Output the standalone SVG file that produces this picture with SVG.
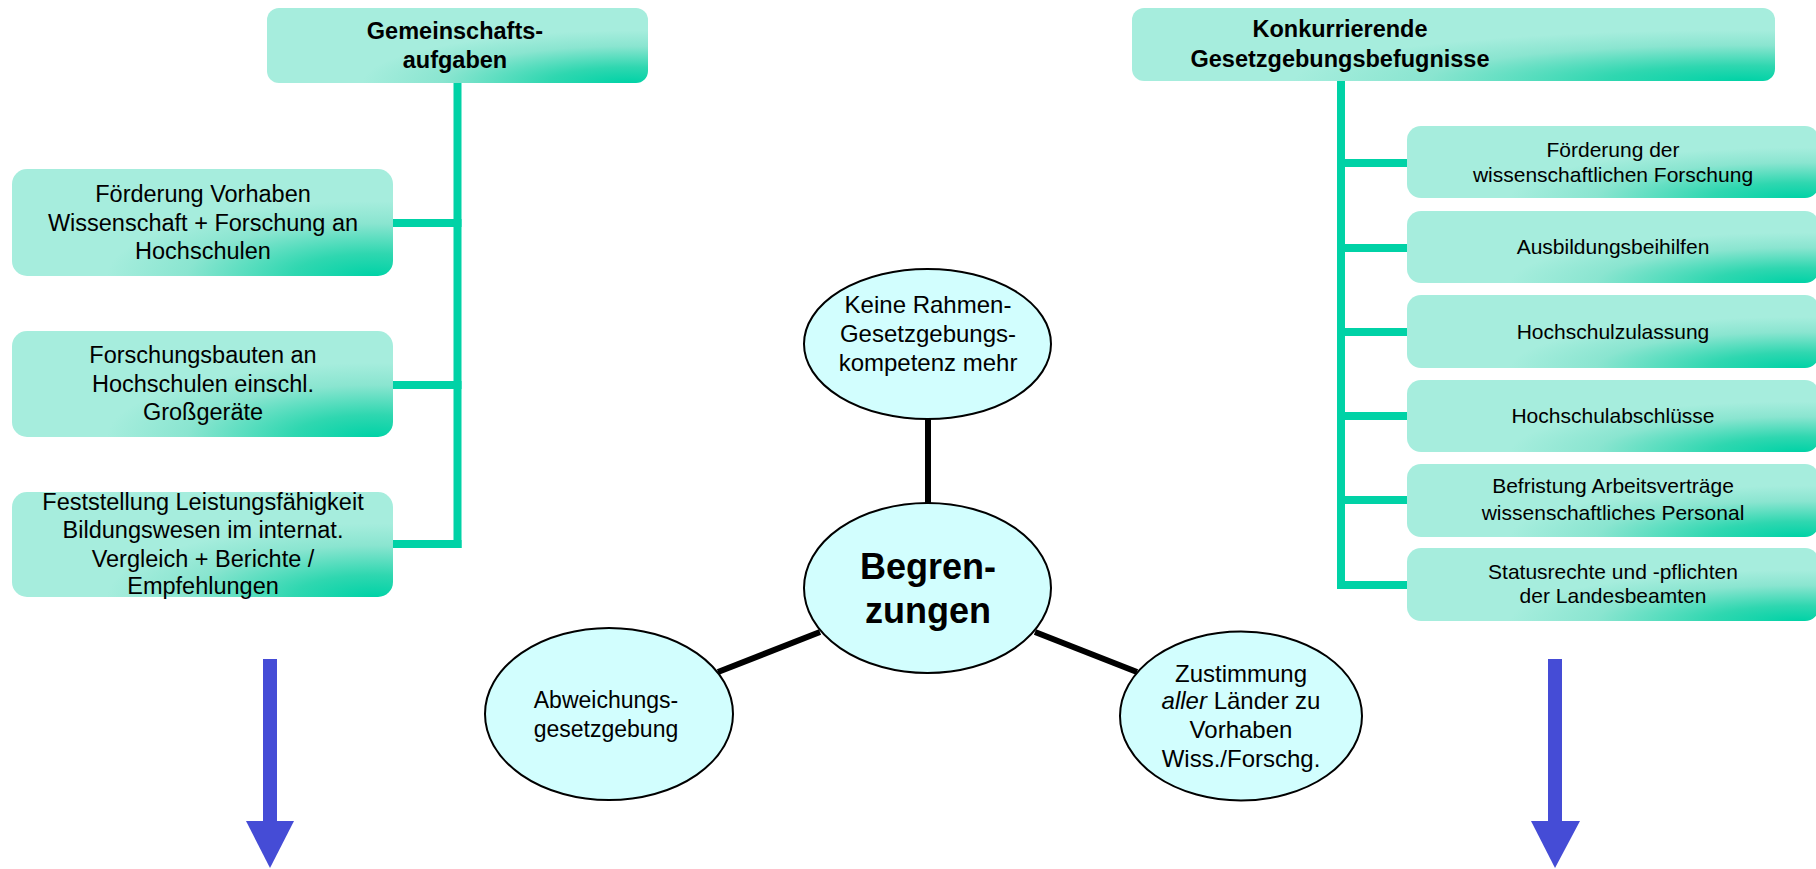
<svg xmlns="http://www.w3.org/2000/svg" width="1816" height="869" viewBox="0 0 1816 869">
<defs>
<radialGradient id="boxGrad" cx="0.95" cy="1" r="0.7" fx="0.95" fy="1">
<stop offset="0" stop-color="#00D2A6"/>
<stop offset="0.3" stop-color="#2FD7B0"/>
<stop offset="0.7" stop-color="#8AE5D0"/>
<stop offset="1" stop-color="#A6EDDD"/>
</radialGradient>
<style>
.box{fill:url(#boxGrad);}
.t{font-family:"Liberation Sans",Arial,sans-serif;fill:#000;text-anchor:middle;}
.hd{font-size:23.5px;font-weight:bold;}
.lb{font-size:23.5px;}
.rb{font-size:21px;}
.el{fill:#D2FEFE;stroke:#000;stroke-width:2;}
.et{font-size:24px;}
.green{fill:none;stroke:#00D2A6;stroke-width:8;}
.black{stroke:#000;stroke-width:6;fill:none;}
.blue{fill:#454CD6;}
</style>
</defs>
<rect width="1816" height="869" fill="#fff"/>

<g id="connectors">
<path class="green" d="M457.5,83 V548"/>
<path class="green" d="M393,223 H461.5"/>
<path class="green" d="M393,385 H461.5"/>
<path class="green" d="M393,544 H461.5"/>
<path class="green" d="M1341,81 V589"/>
<path class="green" d="M1337,163 H1407"/>
<path class="green" d="M1337,248 H1407"/>
<path class="green" d="M1337,332 H1407"/>
<path class="green" d="M1337,416 H1407"/>
<path class="green" d="M1337,500 H1407"/>
<path class="green" d="M1337,585 H1407"/>
<line class="black" x1="928" y1="419" x2="928" y2="503"/>
<line class="black" x1="718" y1="672" x2="820" y2="632"/>
<line class="black" x1="1035" y1="632" x2="1137" y2="672"/>
<g id="arrow-left"><rect class="blue" x="263" y="659" width="14" height="164"/><polygon class="blue" points="246,821 294,821 270,868"/></g>
<g id="arrow-right"><rect class="blue" x="1548" y="659" width="14" height="164"/><polygon class="blue" points="1531,821 1580,821 1555,868"/></g>
</g>

<g id="header-left">
<rect class="box" x="267" y="8" width="381" height="75" rx="12"/>
<text class="t hd" x="455" y="39">Gemeinschafts-</text>
<text class="t hd" x="455" y="68">aufgaben</text>
</g>
<g id="header-right">
<rect class="box" x="1132" y="8" width="643" height="73" rx="12"/>
<text class="t hd" x="1340" y="37">Konkurrierende</text>
<text class="t hd" x="1340" y="67">Gesetzgebungsbefugnisse</text>
</g>

<g id="left-1">
<rect class="box" x="12" y="169" width="381" height="107" rx="15"/>
<text class="t lb" x="203" y="202">Förderung Vorhaben</text>
<text class="t lb" x="203" y="231">Wissenschaft + Forschung an</text>
<text class="t lb" x="203" y="259">Hochschulen</text>
</g>
<g id="left-2">
<rect class="box" x="12" y="331" width="381" height="106" rx="15"/>
<text class="t lb" x="203" y="363">Forschungsbauten an</text>
<text class="t lb" x="203" y="392">Hochschulen einschl.</text>
<text class="t lb" x="203" y="420">Großgeräte</text>
</g>
<g id="left-3">
<rect class="box" x="12" y="492" width="381" height="105" rx="15"/>
<text class="t lb" x="203" y="510">Feststellung Leistungsfähigkeit</text>
<text class="t lb" x="203" y="538">Bildungswesen im internat.</text>
<text class="t lb" x="203" y="567">Vergleich + Berichte /</text>
<text class="t lb" x="203" y="594">Empfehlungen</text>
</g>

<g id="right-1">
<rect class="box" x="1407" y="126" width="412" height="72" rx="14"/>
<text class="t rb" x="1613" y="157">Förderung der</text>
<text class="t rb" x="1613" y="182">wissenschaftlichen Forschung</text>
</g>
<g id="right-2">
<rect class="box" x="1407" y="211" width="412" height="72" rx="14"/>
<text class="t rb" x="1613" y="254">Ausbildungsbeihilfen</text>
</g>
<g id="right-3">
<rect class="box" x="1407" y="295" width="412" height="73" rx="14"/>
<text class="t rb" x="1613" y="339">Hochschulzulassung</text>
</g>
<g id="right-4">
<rect class="box" x="1407" y="380" width="412" height="72" rx="14"/>
<text class="t rb" x="1613" y="423">Hochschulabschlüsse</text>
</g>
<g id="right-5">
<rect class="box" x="1407" y="464" width="412" height="73" rx="14"/>
<text class="t rb" x="1613" y="493">Befristung Arbeitsverträge</text>
<text class="t rb" x="1613" y="520">wissenschaftliches Personal</text>
</g>
<g id="right-6">
<rect class="box" x="1407" y="548" width="412" height="73" rx="14"/>
<text class="t rb" x="1613" y="579">Statusrechte und -pflichten</text>
<text class="t rb" x="1613" y="603">der Landesbeamten</text>
</g>

<g id="ellipse-top">
<ellipse class="el" cx="927.5" cy="344" rx="123.5" ry="75"/>
<text class="t et" x="928" y="313">Keine Rahmen-</text>
<text class="t et" x="928" y="342">Gesetzgebungs-</text>
<text class="t et" x="928" y="371">kompetenz mehr</text>
</g>
<g id="ellipse-center">
<ellipse class="el" cx="927.5" cy="588" rx="123.5" ry="85"/>
<text class="t" style="font-size:36px;font-weight:bold" x="928" y="579">Begren-</text>
<text class="t" style="font-size:36px;font-weight:bold" x="928" y="623">zungen</text>
</g>
<g id="ellipse-left">
<ellipse class="el" cx="609" cy="714" rx="124" ry="86"/>
<text class="t" style="font-size:23px" x="606" y="708">Abweichungs-</text>
<text class="t" style="font-size:23px" x="606" y="737">gesetzgebung</text>
</g>
<g id="ellipse-right">
<ellipse class="el" cx="1241" cy="716" rx="121" ry="84.5"/>
<text class="t et" x="1241" y="682">Zustimmung</text>
<text class="t et" x="1241" y="709"><tspan font-style="italic">aller</tspan> Länder zu</text>
<text class="t et" x="1241" y="738">Vorhaben</text>
<text class="t et" x="1241" y="767">Wiss./Forschg.</text>
</g>
</svg>
